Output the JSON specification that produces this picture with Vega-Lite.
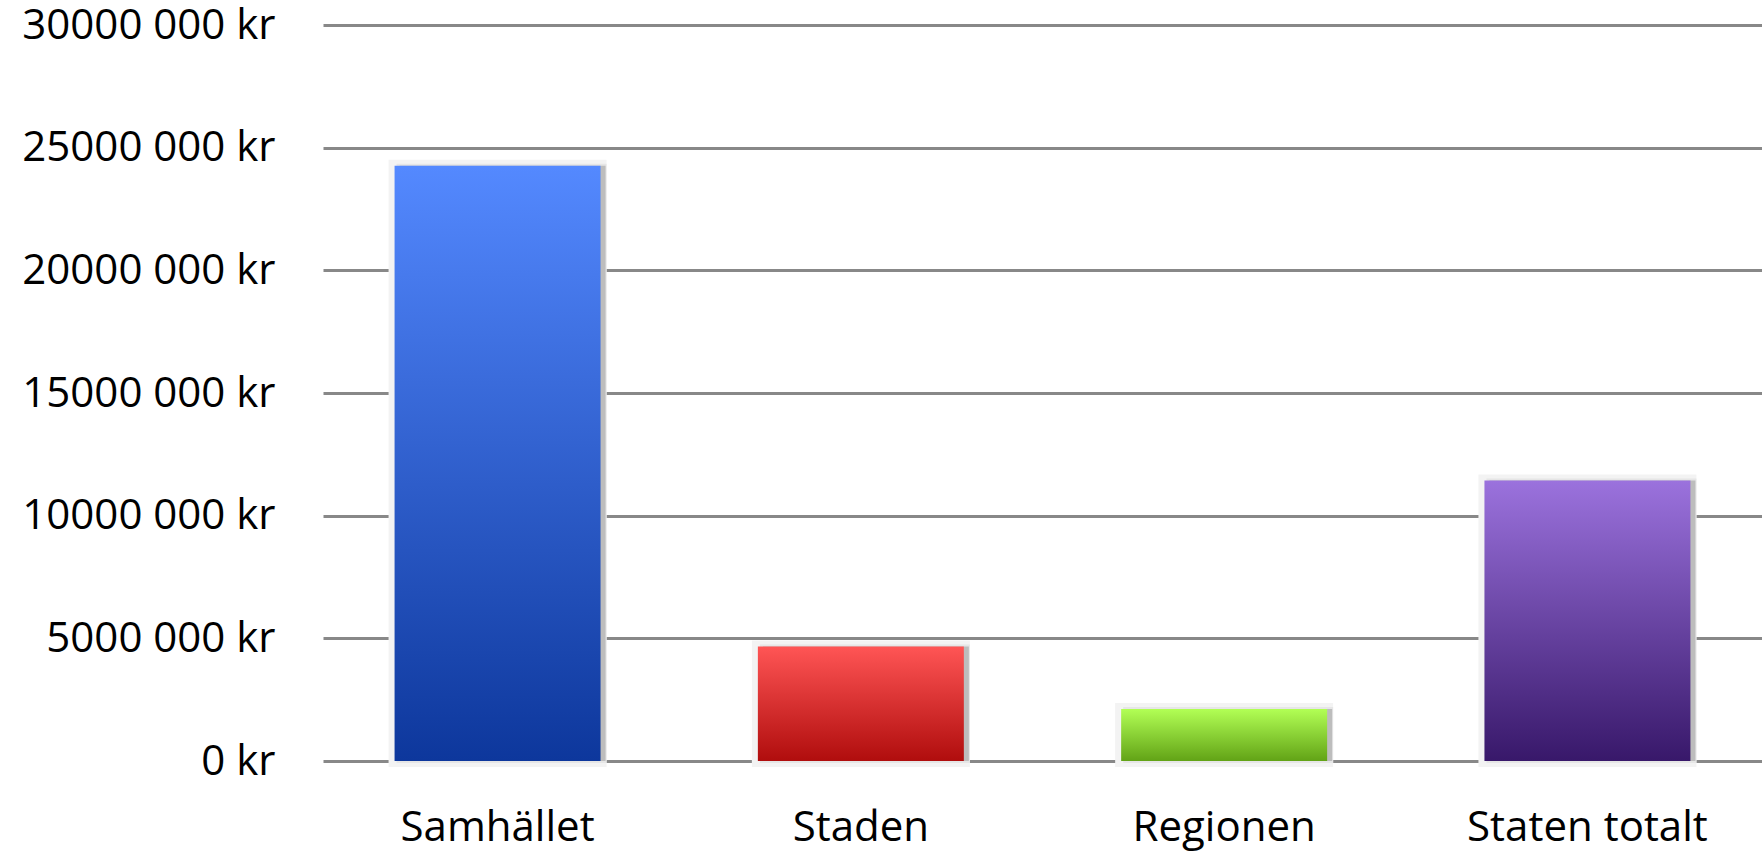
{
  "$schema": "https://vega.github.io/schema/vega-lite/v6.json",
  "width": 1439,
  "height": 736,
  "autosize": "none",
  "padding": {"left": 323, "top": 25, "right": 0, "bottom": 93},
  "background": "white",
  "config": {
    "view": {"stroke": null},
    "axis": {"labelFont": "Open Sans", "labelFontSize": 42, "labelColor": "#000000", "labelLimit": 0}
  },
  "data": {
    "values": [
      {"kategori": "Samhället", "belopp": 24260000},
      {"kategori": "Staden", "belopp": 4670000},
      {"kategori": "Regionen", "belopp": 2120000},
      {"kategori": "Staten totalt", "belopp": 11430000}
    ]
  },
  "encoding": {
    "x": {
      "field": "kategori",
      "type": "nominal",
      "sort": null,
      "scale": {
        "domain": ["Samhället", "Staden", "Regionen", "Staten totalt"],
        "paddingInner": 0.433,
        "paddingOuter": 0.197,
        "align": 0.5
      },
      "axis": {"title": null, "labelAngle": 0, "domain": false, "ticks": false, "labelPadding": 46, "grid": false, "labelLimit": 0}
    },
    "y": {
      "field": "belopp",
      "type": "quantitative",
      "scale": {"domain": [0, 30000000], "nice": false},
      "axis": {
        "title": null,
        "values": [0, 5000000, 10000000, 15000000, 20000000, 25000000, 30000000],
        "labelExpr": "datum.value == 0 ? '0 kr' : format(datum.value / 1000, 'd') + ' 000 kr'",
        "domain": false,
        "ticks": false,
        "labelPadding": 48,
        "labelLimit": 0,
        "grid": true,
        "gridColor": "#888888",
        "gridWidth": 3,
        "gridOpacity": 1
      }
    }
  },
  "layer": [
    {
      "mark": {"type": "bar", "color": "#f0f0f0", "stroke": "#f3f3f3", "strokeWidth": 12, "y2Offset": -6}
    },
    {
      "mark": {"type": "bar", "color": "#e2e2e2", "stroke": "#e6e6e6", "strokeWidth": 4, "y2Offset": -2, "xOffset": 4}
    },
    {
      "mark": {"type": "bar", "color": "#bdbdbd", "xOffset": 5}
    },
    {
      "transform": [{"filter": "datum.kategori == 'Samhället'"}],
      "mark": {"type": "bar", "color": {"gradient": "linear", "x1": 0, "y1": 0, "x2": 0, "y2": 1, "stops": [{"offset": 0, "color": "#5489ff"}, {"offset": 1, "color": "#0d379c"}]}}
    },
    {
      "transform": [{"filter": "datum.kategori == 'Staden'"}],
      "mark": {"type": "bar", "color": {"gradient": "linear", "x1": 0, "y1": 0, "x2": 0, "y2": 1, "stops": [{"offset": 0, "color": "#ff5555"}, {"offset": 1, "color": "#b00d0d"}]}}
    },
    {
      "transform": [{"filter": "datum.kategori == 'Regionen'"}],
      "mark": {"type": "bar", "color": {"gradient": "linear", "x1": 0, "y1": 0, "x2": 0, "y2": 1, "stops": [{"offset": 0, "color": "#b2ff55"}, {"offset": 1, "color": "#62a316"}]}}
    },
    {
      "transform": [{"filter": "datum.kategori == 'Staten totalt'"}],
      "mark": {"type": "bar", "color": {"gradient": "linear", "x1": 0, "y1": 0, "x2": 0, "y2": 1, "stops": [{"offset": 0, "color": "#9b72dd"}, {"offset": 1, "color": "#38186a"}]}}
    }
  ]
}
